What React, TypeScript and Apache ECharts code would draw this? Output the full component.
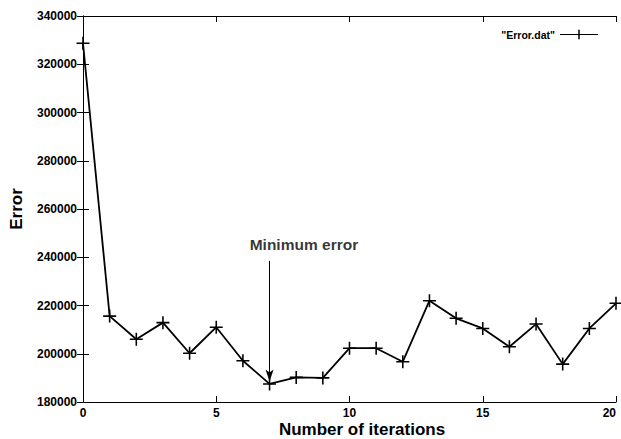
import React, { useEffect, useRef } from "react";
import * as echarts from "echarts";

const iterations: number[] = [0, 1, 2, 3, 4, 5, 6, 7, 8, 9, 10, 11, 12, 13, 14, 15, 16, 17, 18, 19, 20];
const errorValues: number[] = [
  328700, 215600, 206000, 212900, 200200, 211000, 197100, 187500, 190200, 190000,
  202300, 202300, 196700, 222000, 214700, 210500, 202900, 212300, 195700, 210500, 220900,
];
const seriesName = '"Error.dat"';
const xAxisTitle = "Number of iterations";
const yAxisTitle = "Error";
const minIndex = 7;
const annotationText = "Minimum error";
const annotationPos: [number, number] = [8.29, 245100];
const arrowStartValue = 238500;

const CROSS = "path://M0,4.4H10V5.6H0Z M4.4,0H5.6V10H4.4Z";
const LEGEND_ICON = "path://M0,4.4H40V5.6H0Z M19.2,0H20.8V10H19.2Z";
const FONT = "Liberation Sans";

export default function App() {
  const ref = useRef<HTMLDivElement>(null);
  useEffect(() => {
    if (!ref.current) return;
    const chart = echarts.init(ref.current, null, { renderer: "svg" });
    const data = iterations.map((x, i) => [x, errorValues[i]]);
    const axisLine = { show: true, lineStyle: { color: "#000", width: 1 } };
    const axisTick = { show: true, inside: true, length: 6, lineStyle: { color: "#000" } };
    chart.setOption({
      animation: false,
      backgroundColor: "#fff",
      title: {
        text: xAxisTitle,
        left: 362,
        top: 421,
        textAlign: "center",
        padding: 0,
        textStyle: {
          fontFamily: FONT,
          fontSize: 17,
          fontWeight: "bold",
          color: "#000",
          lineHeight: 17,
        },
      },
      grid: {
        left: 83,
        right: 5,
        top: 16,
        bottom: 37,
        containLabel: false,
        outerBoundsMode: "none",
      },
      legend: {
        show: true,
        top: 24,
        right: 18,
        align: "right",
        itemWidth: 38,
        itemHeight: 12,
        icon: LEGEND_ICON,
        textStyle: { fontFamily: FONT, fontSize: 10.5, fontWeight: "bold", color: "#000" },
        data: [{ name: seriesName, icon: LEGEND_ICON, itemStyle: { color: "#000" } }],
      },
      xAxis: [
        {
          type: "value",
          min: 0,
          max: 20,
          interval: 5,
          axisLine,
          axisTick,
          splitLine: { show: false },
          axisLabel: {
            fontFamily: FONT,
            fontSize: 12,
            fontWeight: "bold",
            color: "#000",
            margin: 5,
            alignMaxLabel: "right",
          },
        },
        {
          type: "value",
          position: "top",
          min: 0,
          max: 20,
          interval: 5,
          axisLine,
          axisTick,
          splitLine: { show: false },
          axisLabel: { show: false },
        },
      ],
      yAxis: [
        {
          type: "value",
          min: 180000,
          max: 340000,
          interval: 20000,
          name: yAxisTitle,
          nameLocation: "middle",
          nameGap: 58,
          nameTextStyle: { fontFamily: FONT, fontSize: 17, fontWeight: "bold", color: "#000" },
          axisLine,
          axisTick,
          splitLine: { show: false },
          axisLabel: {
            fontFamily: FONT,
            fontSize: 12,
            fontWeight: "bold",
            color: "#000",
            margin: 6,
            formatter: (v: number) => String(v),
          },
        },
        {
          type: "value",
          position: "right",
          min: 180000,
          max: 340000,
          interval: 20000,
          axisLine,
          axisTick,
          splitLine: { show: false },
          axisLabel: { show: false },
        },
      ],
      series: [
        {
          name: seriesName,
          type: "line",
          data,
          symbol: CROSS,
          symbolSize: 13,
          showAllSymbol: true,
          lineStyle: { color: "#000", width: 1.8 },
          itemStyle: { color: "#000" },
          markLine: {
            silent: true,
            symbol: ["none", "arrow"],
            symbolSize: [6, 12],
            label: { show: false },
            lineStyle: { color: "#000", width: 1, type: "solid" },
            data: [
              [
                { coord: [iterations[minIndex], arrowStartValue] },
                { coord: [iterations[minIndex], errorValues[minIndex] + 1000] },
              ],
            ],
          },
        },
        {
          name: "annotation",
          type: "scatter",
          data: [annotationPos],
          symbolSize: 0,
          silent: true,
          label: {
            show: true,
            position: "inside",
            formatter: annotationText,
            fontFamily: FONT,
            fontSize: 15.5,
            fontWeight: "bold",
            color: "#000",
          },
        },
      ],
    });
    return () => chart.dispose();
  }, []);
  return (
    <div
      ref={ref}
      style={{ position: "fixed", left: 0, top: 0, width: 621, height: 439 }}
    />
  );
}
